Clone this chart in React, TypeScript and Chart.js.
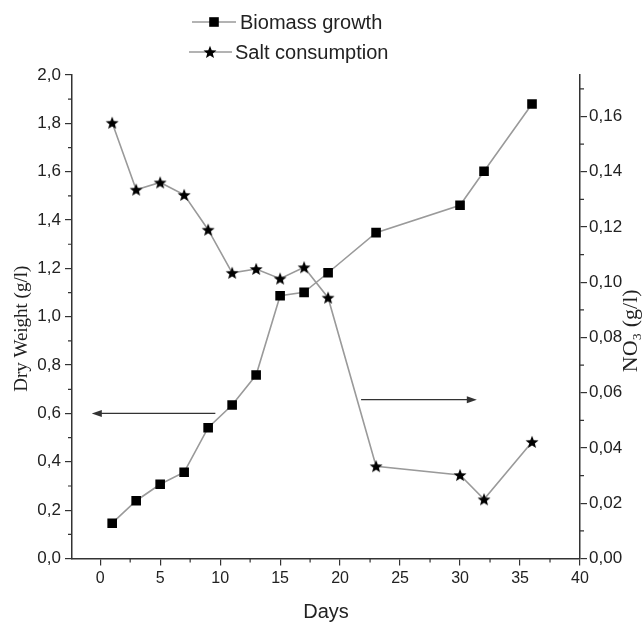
import React, { useEffect, useRef } from 'react';
import { Chart, registerables } from 'chart.js';

Chart.register(...registerables);

// ---- Data ----
const days = [1, 3, 5, 7, 9, 11, 13, 15, 17, 19, 23, 30, 32, 36];
const biomass = [0.146, 0.239, 0.307, 0.357, 0.541, 0.635, 0.759, 1.087, 1.101, 1.182, 1.348, 1.461, 1.602, 1.88];
const salt = [0.1577, 0.1335, 0.1361, 0.1316, 0.119, 0.1034, 0.1048, 0.1013, 0.1054, 0.0944, 0.0334, 0.0302, 0.0214, 0.0422];
const seriesLabels = ['Biomass growth', 'Salt consumption'];

const xTicks = [0, 5, 10, 15, 20, 25, 30, 35, 40];
const xMinor = [2.5, 7.5, 12.5, 17.5, 22.5, 27.5, 32.5, 37.5];
const yLeftTicks = [0, 0.2, 0.4, 0.6, 0.8, 1.0, 1.2, 1.4, 1.6, 1.8, 2.0];
const yLeftMinor = [0.1, 0.3, 0.5, 0.7, 0.9, 1.1, 1.3, 1.5, 1.7, 1.9];
const yRightTicks = [0, 0.02, 0.04, 0.06, 0.08, 0.1, 0.12, 0.14, 0.16];
const yRightMinor = [0.01, 0.03, 0.05, 0.07, 0.09, 0.11, 0.13, 0.15, 0.17];

// arrows: axis, y value, from day, to day
const arrowLeft = { axis: 'y', y: 0.6, from: 9.6, to: -0.7 };
const arrowRight = { axis: 'y1', y: 0.0575, from: 21.75, to: 31.4 };

const axisTitles = { x: 'Days', y: 'Dry Weight (g/l)', y1: 'NO\u2083 (g/l)' };

const TEXT = '#222222';
const LINE = '#9a9a9a';
const AXIS = '#333333';
const SANS = '"Liberation Sans", Arial, sans-serif';
const SERIF = '"Liberation Serif", "Times New Roman", serif';

function makeStar(r: number, color: string): HTMLCanvasElement {
  const size = Math.ceil(r * 2 + 2);
  const c = document.createElement('canvas');
  c.width = size;
  c.height = size;
  const ctx = c.getContext('2d')!;
  ctx.translate(size / 2, size / 2 + r * 0.08);
  ctx.beginPath();
  for (let i = 0; i < 10; i++) {
    const rad = i % 2 === 0 ? r : r * 0.43;
    const a = -Math.PI / 2 + (i * Math.PI) / 5;
    ctx.lineTo(rad * Math.cos(a), rad * Math.sin(a));
  }
  ctx.closePath();
  ctx.fillStyle = color;
  ctx.fill();
  return c;
}

function drawArrow(ctx: CanvasRenderingContext2D, x1: number, y: number, x2: number) {
  const dir = x2 > x1 ? 1 : -1;
  const head = 10;
  ctx.save();
  ctx.strokeStyle = AXIS;
  ctx.fillStyle = AXIS;
  ctx.lineWidth = 1.3;
  ctx.beginPath();
  ctx.moveTo(x1, y);
  ctx.lineTo(x2 - dir * head * 0.8, y);
  ctx.stroke();
  ctx.beginPath();
  ctx.moveTo(x2, y);
  ctx.lineTo(x2 - dir * head, y - 3.5);
  ctx.lineTo(x2 - dir * head, y + 3.5);
  ctx.closePath();
  ctx.fill();
  ctx.restore();
}

export default function App() {
  const ref = useRef<HTMLCanvasElement | null>(null);

  useEffect(() => {
    if (!ref.current) return;
    const star = makeStar(6.8, '#000');

    const extras = {
      id: 'extras',
      afterDraw(chart: any) {
        const ctx: CanvasRenderingContext2D = chart.ctx;
        const { x, y, y1 } = chart.scales;
        const area = chart.chartArea;
        ctx.save();
        // minor ticks
        ctx.strokeStyle = AXIS;
        ctx.lineWidth = 1.2;
        ctx.beginPath();
        xMinor.forEach((v) => {
          const px = x.getPixelForValue(v);
          ctx.moveTo(px, area.bottom);
          ctx.lineTo(px, area.bottom + 4);
        });
        yLeftMinor.forEach((v) => {
          const py = y.getPixelForValue(v);
          ctx.moveTo(area.left, py);
          ctx.lineTo(area.left - 4, py);
        });
        yRightMinor.forEach((v) => {
          const py = y1.getPixelForValue(v);
          ctx.moveTo(area.right, py);
          ctx.lineTo(area.right + 4, py);
        });
        ctx.stroke();

        // arrows
        [arrowLeft, arrowRight].forEach((a) => {
          const sc = chart.scales[a.axis];
          drawArrow(ctx, x.getPixelForValue(a.from), sc.getPixelForValue(a.y), x.getPixelForValue(a.to));
        });

        // axis titles (rotated, reading bottom to top)
        const midY = (area.top + area.bottom) / 2;
        ctx.fillStyle = TEXT;
        ctx.textAlign = 'center';
        ctx.textBaseline = 'middle';
        ctx.font = `19px ${SERIF}`;
        ctx.save();
        ctx.translate(22, midY + 12);
        ctx.rotate(-Math.PI / 2);
        ctx.fillText(axisTitles.y, 0, 0);
        ctx.restore();
        ctx.font = `22px ${SERIF}`;
        ctx.save();
        ctx.translate(631, midY + 14);
        ctx.rotate(-Math.PI / 2);
        ctx.fillText(axisTitles.y1, 0, 0);
        ctx.restore();

        // legend
        const rows = [
          { y: 22, l0: 192, l1: 236, m: 214, tx: 240, kind: 'rect' },
          { y: 52, l0: 189, l1: 232, m: 210, tx: 235, kind: 'star' },
        ];
        rows.forEach((r, i) => {
          ctx.strokeStyle = LINE;
          ctx.lineWidth = 1.6;
          ctx.beginPath();
          ctx.moveTo(r.l0, r.y);
          ctx.lineTo(r.l1, r.y);
          ctx.stroke();
          if (r.kind === 'rect') {
            ctx.fillStyle = '#000';
            ctx.fillRect(r.m - 4.8, r.y - 4.8, 9.6, 9.6);
          } else {
            ctx.drawImage(star, r.m - star.width / 2, r.y - star.height / 2);
          }
          ctx.fillStyle = TEXT;
          ctx.textAlign = 'left';
          ctx.font = `20px ${SANS}`;
          ctx.fillText(seriesLabels[i], r.tx, r.y + 1);
        });
        ctx.restore();
      },
    };

    const chart = new Chart(ref.current, {
      type: 'line',
      data: {
        datasets: [
          {
            label: seriesLabels[0],
            data: days.map((d, i) => ({ x: d, y: biomass[i] })),
            yAxisID: 'y',
            borderColor: LINE,
            borderWidth: 1.6,
            pointStyle: 'rect',
            pointRadius: 6.8,
            pointBackgroundColor: '#000',
            pointBorderColor: '#000',
            pointBorderWidth: 0,
            tension: 0,
          },
          {
            label: seriesLabels[1],
            data: days.map((d, i) => ({ x: d, y: salt[i] })),
            yAxisID: 'y1',
            borderColor: LINE,
            borderWidth: 1.6,
            pointStyle: star as any,
            pointRadius: 7,
            tension: 0,
          },
        ],
      },
      options: {
        responsive: false,
        animation: false,
        events: [],
        layout: { padding: { top: 75, left: 0, right: 0, bottom: 0 } },
        plugins: { legend: { display: false }, tooltip: { enabled: false } },
        scales: {
          x: {
            type: 'linear',
            position: 'bottom',
            min: -2.35,
            max: 40,
            afterBuildTicks: (s: any) => {
              s.ticks = xTicks.map((v) => ({ value: v }));
            },
            afterFit: (s: any) => {
              s.height = 67.5;
            },
            grid: { drawOnChartArea: false, tickLength: 7, color: AXIS, lineWidth: 1.2 },
            border: { display: true, color: AXIS, width: 1.5 },
            ticks: {
              autoSkip: false,
              maxRotation: 0,
              padding: 3,
              color: TEXT,
              font: { size: 16, family: SANS },
              callback: (v: any) => String(v),
            },
            title: {
              display: true,
              text: axisTitles.x,
              color: TEXT,
              font: { size: 20, family: SANS },
              padding: { top: 0, bottom: 2 },
            },
          },
          y: {
            type: 'linear',
            position: 'left',
            min: 0,
            max: 2.0,
            afterBuildTicks: (s: any) => {
              s.ticks = yLeftTicks.map((v) => ({ value: v }));
            },
            afterFit: (s: any) => {
              s.width = 72;
            },
            grid: { drawOnChartArea: false, tickLength: 7, color: AXIS, lineWidth: 1.2 },
            border: { display: true, color: AXIS, width: 1.5 },
            ticks: {
              autoSkip: false,
              padding: 4,
              color: TEXT,
              font: { size: 17, family: SANS },
              callback: (v: any) => Number(v).toFixed(1).replace('.', ','),
            },
          },
          y1: {
            type: 'linear',
            position: 'right',
            min: 0,
            max: 0.175,
            afterBuildTicks: (s: any) => {
              s.ticks = yRightTicks.map((v) => ({ value: v }));
            },
            afterFit: (s: any) => {
              s.width = 64;
            },
            grid: { drawOnChartArea: false, tickLength: 7, color: AXIS, lineWidth: 1.2 },
            border: { display: true, color: AXIS, width: 1.5 },
            ticks: {
              autoSkip: false,
              padding: 2,
              color: TEXT,
              font: { size: 17, family: SANS },
              callback: (v: any) => Number(v).toFixed(2).replace('.', ','),
            },
          },
        },
      },
      plugins: [extras],
    } as any);

    return () => chart.destroy();
  }, []);

  return (
    <div style={{ position: 'absolute', left: 0, top: 0, width: 644, height: 626, background: '#fff' }}>
      <canvas ref={ref} width={644} height={626} style={{ display: 'block' }} />
    </div>
  );
}
